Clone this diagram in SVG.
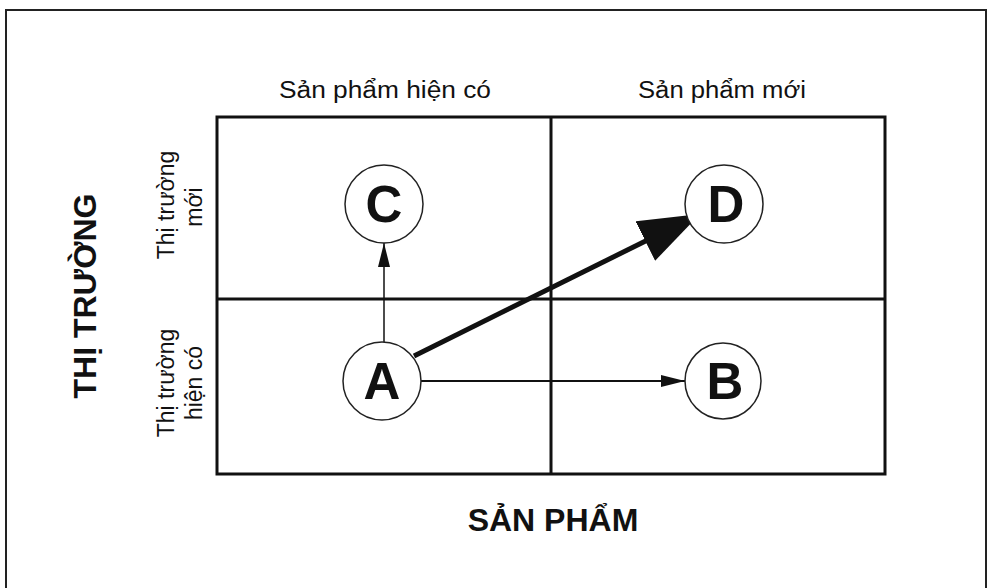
<svg xmlns="http://www.w3.org/2000/svg" width="988" height="588" viewBox="0 0 988 588">
<defs>
<style>
.lbl{font-family:"Liberation Sans",Arial,sans-serif;font-size:23px;fill:#111;text-anchor:middle}
.axis{font-family:"Liberation Sans",Arial,sans-serif;font-size:32px;font-weight:bold;fill:#111;text-anchor:middle}
.node circle{fill:#fff;stroke:#222;stroke-width:1.5}
.node text{font-family:"Liberation Sans",Arial,sans-serif;font-size:51px;font-weight:bold;fill:#111;text-anchor:middle}
.grid{stroke:#111;stroke-width:3;fill:none}
</style>
<marker id="small" markerUnits="userSpaceOnUse" markerWidth="26" markerHeight="14" refX="24" refY="6" orient="auto">
<path d="M0,0 L24,6 L0,12 z" fill="#111"/>
</marker>
<marker id="big" markerUnits="userSpaceOnUse" markerWidth="64" markerHeight="46" refX="51" refY="22" orient="auto">
<path d="M0,0 L61,22 L0,44 z" fill="#111"/>
</marker>
</defs>
<rect x="0" y="0" width="988" height="588" fill="#fff"/>
<path d="M6,600 L6,10 L986,10 L986,600" fill="none" stroke="#222" stroke-width="2"/>
<g id="grid">
<rect class="grid" x="217" y="117" width="668" height="357"/>
<line class="grid" x1="551" y1="117" x2="551" y2="474"/>
<line class="grid" x1="217" y1="299" x2="885" y2="299"/>
</g>
<g id="labels">
<text class="lbl" x="385" y="98" textLength="212" lengthAdjust="spacingAndGlyphs">Sản phẩm hiện có</text>
<text class="lbl" x="722" y="98" textLength="168" lengthAdjust="spacingAndGlyphs">Sản phẩm mới</text>
<text class="lbl" transform="translate(174,205) rotate(-90)">Thị trường</text>
<text class="lbl" transform="translate(202,207) rotate(-90)">mới</text>
<text class="lbl" transform="translate(174,383) rotate(-90)">Thị trường</text>
<text class="lbl" transform="translate(202,383) rotate(-90)">hiện có</text>
<text class="axis" x="553" y="531">SẢN PHẨM</text>
<text class="axis" transform="translate(96,296) rotate(-90)">THỊ TRƯỜNG</text>
</g>
<g id="connectors" stroke="#111" fill="none">
<line x1="384" y1="342" x2="384" y2="243" stroke-width="1.5" marker-end="url(#small)"/>
<line x1="421" y1="381" x2="685" y2="381" stroke-width="2" marker-end="url(#small)"/>
<line x1="414" y1="356" x2="691" y2="218.4" stroke-width="5" marker-end="url(#big)"/>
</g>
<g id="node-C" class="node"><circle cx="384" cy="204" r="39"/><text x="384" y="222">C</text></g>
<g id="node-D" class="node"><circle cx="724" cy="204" r="39"/><text x="726" y="222">D</text></g>
<g id="node-A" class="node"><circle cx="382" cy="381" r="39"/><text x="382" y="399">A</text></g>
<g id="node-B" class="node"><circle cx="723" cy="381" r="38"/><text x="725" y="399">B</text></g>
</svg>
